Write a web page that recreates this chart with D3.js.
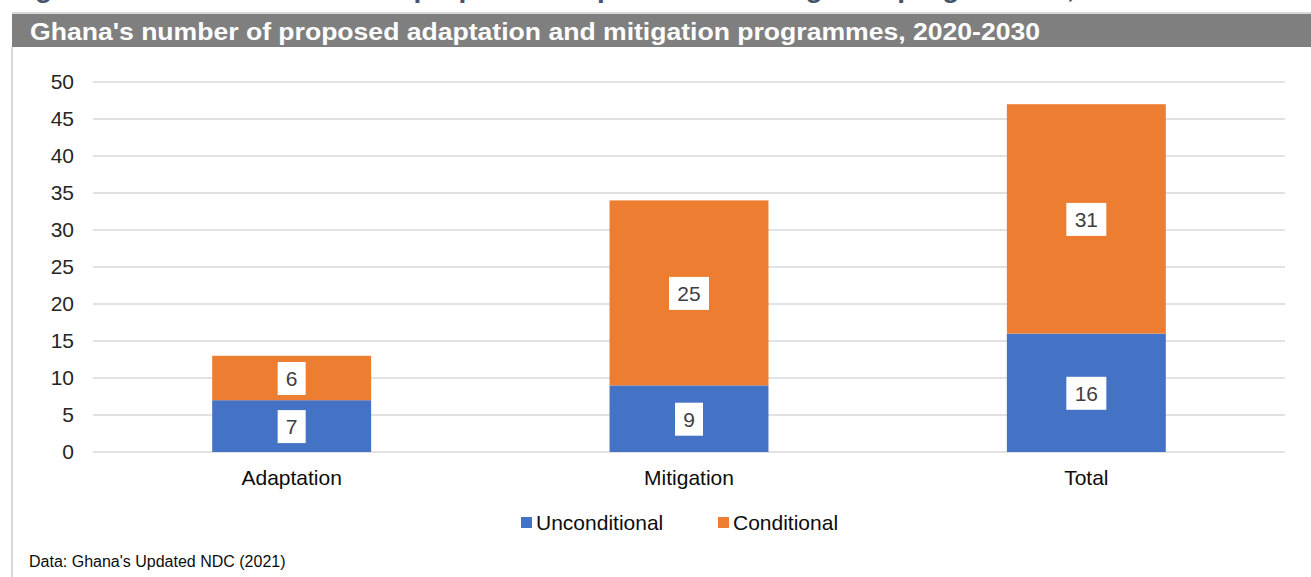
<!DOCTYPE html>
<html>
<head>
<meta charset="utf-8">
<script src="https://cdn.jsdelivr.net/npm/d3@7"></script>
<style>
  body { margin: 0; background: #fff; }
  svg { display: block; font-family: "Liberation Sans", Arial, sans-serif; }
</style>
</head>
<body>
<svg width="1311" height="577"></svg>
<script>
var categories = ["Adaptation", "Mitigation", "Total"]
var unconditional = [7, 9, 16]
var conditional = [6, 25, 31]
var seriesNames = ["Unconditional", "Conditional"]
var yTicks = [0, 5, 10, 15, 20, 25, 30, 35, 40, 45, 50]

var colors = ["#4472c4", "#ed7d31"]

var svg = d3.select("svg")

// figure caption, cut off at the top edge as in the source page
svg.append("text")
  .attr("x", 10).attr("y", -3)
  .attr("font-size", 28).attr("font-weight", "bold")
  .attr("fill", "#44546a")
  .text("Figure 13: Ghana's number of proposed adaptation and mitigation programmes, 2020-2030")

// title bar
svg.append("rect")
  .attr("x", 12).attr("y", 12).attr("width", 1299).attr("height", 2)
  .attr("fill", "#d9d9d9")
svg.append("rect")
  .attr("x", 12).attr("y", 14).attr("width", 1299).attr("height", 33)
  .attr("fill", "#7f7f7f")
svg.append("text")
  .attr("x", 30).attr("y", 40)
  .attr("font-size", 23).attr("font-weight", "bold")
  .attr("textLength", 1010).attr("lengthAdjust", "spacingAndGlyphs")
  .attr("fill", "#fff")
  .text("Ghana's number of proposed adaptation and mitigation programmes, 2020-2030")

// left border
svg.append("rect")
  .attr("x", 11).attr("y", 47).attr("width", 2).attr("height", 530)
  .attr("fill", "#d9d9d9")

var x = d3.scaleBand()
  .domain(categories)
  .range([93, 1285])
  .paddingInner(0.6)
  .paddingOuter(0.3)

var y = d3.scaleLinear()
  .domain([0, 50])
  .range([452, 82])

// gridlines
svg.append("g")
  .selectAll("line")
  .data(yTicks)
  .join("line")
  .attr("x1", 93).attr("x2", 1285)
  .attr("y1", d => y(d)).attr("y2", d => y(d))
  .attr("stroke", "#d9d9d9").attr("stroke-width", 1.5)

// y axis labels
var yAxis = svg.append("g")
  .attr("transform", "translate(80,0)")
  .call(d3.axisLeft(y).tickValues(yTicks).tickSize(0).tickPadding(6))
yAxis.select(".domain").remove()
yAxis.selectAll("text")
  .attr("font-size", 21).attr("fill", "#262626")
  .attr("font-family", "Liberation Sans, Arial, sans-serif")

// stacked bars
var rows = categories.map((c, i) => ({ cat: c, Unconditional: unconditional[i], Conditional: conditional[i] }))
var stack = d3.stack().keys(seriesNames)(rows)

var layers = svg.append("g")
  .selectAll("g")
  .data(stack)
  .join("g")
  .attr("fill", (d, i) => colors[i])

layers.selectAll("rect")
  .data(d => d)
  .join("rect")
  .attr("x", d => x(d.data.cat))
  .attr("width", x.bandwidth())
  .attr("y", d => y(d[1]))
  .attr("height", d => y(d[0]) - y(d[1]))

// data labels with white boxes
var labels = []
stack.forEach(s => s.forEach(d => labels.push({ cat: d.data.cat, v: d[1] - d[0], mid: (d[0] + d[1]) / 2 })))

var lab = svg.append("g")
  .selectAll("g")
  .data(labels)
  .join("g")
  .attr("transform", d => "translate(" + (x(d.cat) + x.bandwidth() / 2) + "," + y(d.mid) + ")")

lab.append("rect")
  .attr("x", d => String(d.v).length > 1 ? -20 : -14)
  .attr("width", d => String(d.v).length > 1 ? 40 : 28)
  .attr("y", -16).attr("height", 33)
  .attr("fill", "#fff")

lab.append("text")
  .attr("text-anchor", "middle")
  .attr("y", 8)
  .attr("font-size", 21)
  .attr("fill", "#404040")
  .text(d => d.v)

// category labels
svg.append("g")
  .selectAll("text")
  .data(categories)
  .join("text")
  .attr("x", d => x(d) + x.bandwidth() / 2)
  .attr("y", 485)
  .attr("text-anchor", "middle")
  .attr("font-size", 21)
  .attr("fill", "#0d0d0d")
  .text(d => d)

// legend
var legendX = [521, 718]
var leg = svg.append("g")
  .selectAll("g")
  .data(seriesNames)
  .join("g")
  .attr("transform", (d, i) => "translate(" + legendX[i] + ",517)")
leg.append("rect")
  .attr("width", 11).attr("height", 11)
  .attr("fill", (d, i) => colors[i])
leg.append("text")
  .attr("x", 15).attr("y", 13)
  .attr("font-size", 21)
  .attr("fill", "#0d0d0d")
  .text(d => d)

// source note
svg.append("text")
  .attr("x", 29).attr("y", 567)
  .attr("font-size", 16)
  .attr("fill", "#0d0d0d")
  .text("Data: Ghana's Updated NDC (2021)")
</script>
</body>
</html>
